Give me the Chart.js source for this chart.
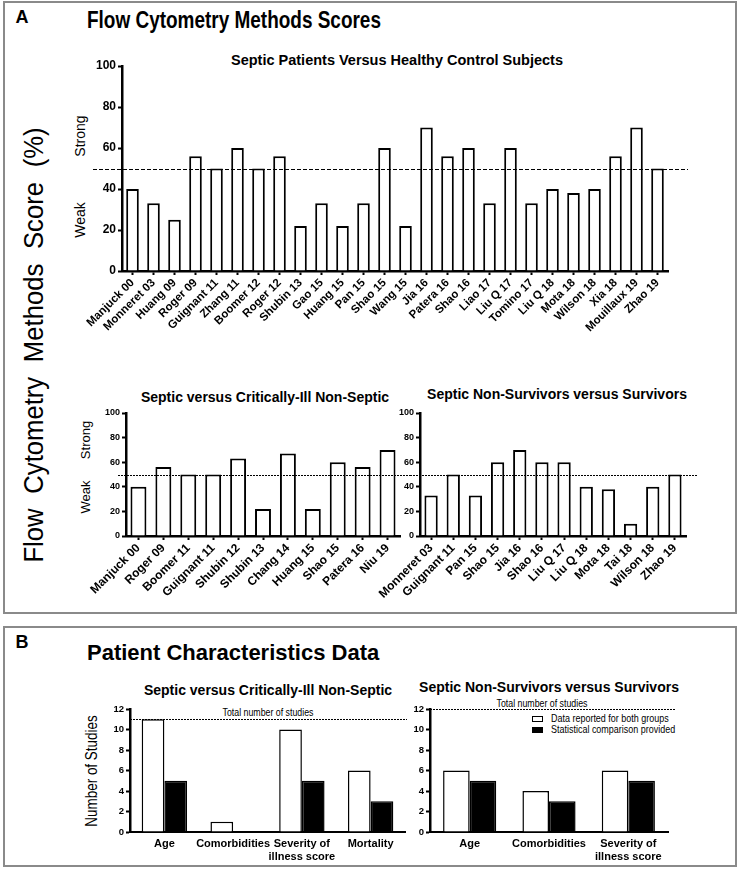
<!DOCTYPE html>
<html>
<head>
<meta charset="utf-8">
<script src="https://cdn.jsdelivr.net/npm/chart.js@4.4.0/dist/chart.umd.min.js"></script>
<style>
  body { margin: 0; background: #fff; }
  #page { position: relative; width: 740px; height: 870px; overflow: hidden; font-family: "Liberation Sans", Arial, sans-serif; color: #000; }
  .box { position: absolute; border: 2px solid #8a8a8a; box-sizing: border-box; }
  .txt { position: absolute; white-space: nowrap; line-height: 1; transform: translate(-50%, -50%); }
  .lft { position: absolute; white-space: nowrap; line-height: 1; transform: translate(0, -50%); transform-origin: left center; }
  .rot { position: absolute; white-space: nowrap; line-height: 1; transform: translate(-50%, -50%) rotate(-90deg); }
  .b { font-weight: bold; }
  canvas { position: absolute; }
  .key { position: absolute; width: 11px; height: 6px; border: 1.5px solid #000; box-sizing: border-box; }
</style>
</head>
<body>
<div id="page">
  <div class="box" style="left:3px;top:1px;width:734px;height:613px"></div>
  <div class="box" style="left:3px;top:626px;width:734px;height:241px"></div>

  <div class="txt b" style="left:22px;top:17px;font-size:18px">A</div>
  <div class="lft b" style="left:87px;top:20px;font-size:24px;transform:translate(0,-50%) scaleX(0.79)">Flow Cytometry Methods Scores</div>
  <div class="txt b" style="left:397px;top:60px;font-size:14.5px">Septic Patients Versus Healthy Control Subjects</div>
  <div class="txt b" style="left:265px;top:397px;font-size:14px">Septic versus Critically-Ill Non-Septic</div>
  <div class="txt b" style="left:557px;top:394px;font-size:14px">Septic Non-Survivors versus Survivors</div>

  <div class="rot" style="left:34px;top:345px;font-size:27px;word-spacing:8px;transform:translate(-50%,-50%) rotate(-90deg) scaleX(0.95)">Flow Cytometry Methods Score (%)</div>
  <div class="rot" style="left:80px;top:136px;font-size:14px">Strong</div>
  <div class="rot" style="left:80px;top:220px;font-size:14px">Weak</div>
  <div class="rot" style="left:85px;top:440px;font-size:13px">Strong</div>
  <div class="rot" style="left:85px;top:497px;font-size:13px">Weak</div>

  <div class="txt b" style="left:22px;top:642px;font-size:18px">B</div>
  <div class="lft b" style="left:87px;top:653px;font-size:22px">Patient Characteristics Data</div>
  <div class="txt b" style="left:268px;top:690px;font-size:14px">Septic versus Critically-Ill Non-Septic</div>
  <div class="txt b" style="left:549px;top:687px;font-size:14px">Septic Non-Survivors versus Survivors</div>
  <div class="rot" style="left:92px;top:771px;font-size:16px;transform:translate(-50%,-50%) rotate(-90deg) scaleX(0.84)">Number of Studies</div>
  <div class="txt" style="left:268px;top:712px;font-size:11px;transform:translate(-50%,-50%) scaleX(0.8)">Total number of studies</div>
  <div class="txt" style="left:542px;top:703px;font-size:11px;transform:translate(-50%,-50%) scaleX(0.8)">Total number of studies</div>

  <div class="key" style="left:532px;top:716px;background:#fff"></div>
  <div class="lft" style="left:551px;top:719px;font-size:11.5px;transform:translate(0,-50%) scaleX(0.78)">Data reported for both groups</div>
  <div class="key" style="left:532px;top:727px;background:#000"></div>
  <div class="lft" style="left:551px;top:730px;font-size:11.5px;transform:translate(0,-50%) scaleX(0.78)">Statistical comparison provided</div>

  <canvas id="healthy" width="650" height="310" style="left:60px;top:40px"></canvas>
  <canvas id="ill" width="375" height="230" style="left:40px;top:380px"></canvas>
  <canvas id="surv" width="390" height="230" style="left:330px;top:380px"></canvas>
  <canvas id="illData" width="380" height="195" style="left:40px;top:670px"></canvas>
  <canvas id="survData" width="375" height="195" style="left:330px;top:670px"></canvas>
</div>

<script>
// ---- data ----
const flowTicks = [0, 20, 40, 60, 80, 100];
const studyTicks = [0, 2, 4, 6, 8, 10, 12];
const cutoff = 50;

const healthyStudies = ["Manjuck 00", "Monneret 03", "Huang 09", "Roger 09", "Guignant 11", "Zhang 11",
  "Boomer 12", "Roger 12", "Shubin 13", "Gao 15", "Huang 15", "Pan 15", "Shao 15", "Wang 15", "Jia 16",
  "Patera 16", "Shao 16", "Liao 17", "Liu Q 17", "Tomino 17", "Liu Q 18", "Mota 18", "Wilson 18",
  "Xia 18", "Mouillaux 19", "Zhao 19"];
const healthyScores = [40, 33, 25, 56, 50, 60, 50, 56, 22, 33, 22, 33, 60, 22, 70, 56, 60, 33, 60, 33, 40, 38, 40, 56, 70, 50];

const illStudies = ["Manjuck 00", "Roger 09", "Boomer 11", "Guignant 11", "Shubin 12", "Shubin 13",
  "Chang 14", "Huang 15", "Shao 15", "Patera 16", "Niu 19"];
const illScores = [40, 56, 50, 50, 63, 22, 67, 22, 60, 56, 70];

const survStudies = ["Monneret 03", "Guignant 11", "Pan 15", "Shao 15", "Jia 16", "Shao 16",
  "Liu Q 17", "Liu Q 18", "Mota 18", "Tai 18", "Wilson 18", "Zhao 19"];
const survScores = [33, 50, 33, 60, 70, 60, 60, 40, 38, 10, 40, 50];

const illItems = ["Age", "Comorbidities", ["Severity of", "illness score"], "Mortality"];
const illReported = [11, 1, 10, 6];
const illCompared = [5, 0, 5, 3];
const illTotal = 11;

const survItems = ["Age", "Comorbidities", ["Severity of", "illness score"]];
const survReported = [6, 4, 6];
const survCompared = [5, 3, 5];
const survTotal = 12;

Chart.defaults.font.family = "'Liberation Sans', Arial, sans-serif";
Chart.defaults.color = "#000";

// dashed reference line, drawn past the axes
function dashLine(value, x0, x1, dash) {
  return {
    id: "dashLine",
    afterDraw: function (chart) {
      const ctx = chart.ctx;
      const y = Math.round(chart.scales.y.getPixelForValue(value)) + 0.5;
      ctx.save();
      ctx.strokeStyle = "#000";
      ctx.lineWidth = 1;
      ctx.setLineDash(dash);
      ctx.beginPath();
      ctx.moveTo(x0, y);
      ctx.lineTo(x1, y);
      ctx.stroke();
      ctx.restore();
    }
  };
}

function axisGrid(len) {
  return { drawOnChartArea: false, drawTicks: len > 0, tickLength: len, tickWidth: 2, tickColor: "#000", offset: false };
}

// ---- A: flow cytometry scores ----
function scoreChart(id, labels, values, o) {
  return new Chart(id, {
    type: "bar",
    data: {
      labels: labels,
      datasets: [{
        data: values,
        backgroundColor: "#fff",
        borderColor: "#000",
        borderWidth: 2,
        barPercentage: o.bar,
        categoryPercentage: 1
      }]
    },
    options: {
      responsive: false,
      animation: false,
      layout: { padding: { top: o.top, right: o.right, left: 0, bottom: 0 } },
      plugins: { legend: { display: false }, tooltip: { enabled: false } },
      scales: {
        x: {
          grid: axisGrid(4),
          border: { color: "#000", width: 2.5 },
          ticks: { font: { weight: "bold", size: o.xFont }, minRotation: 45, maxRotation: 45, autoSkip: false, padding: 1 },
          afterFit: function (s) { s.height = o.xHeight; }
        },
        y: {
          min: 0,
          max: 100,
          afterBuildTicks: function (s) { s.ticks = flowTicks.map(function (v) { return { value: v }; }); },
          grid: axisGrid(4),
          border: { color: "#000", width: 2.5 },
          ticks: { font: { weight: "bold", size: o.yFont }, padding: 2 },
          afterFit: function (s) { s.width = o.yWidth; }
        }
      }
    },
    plugins: [dashLine(cutoff, o.dashFrom, o.dashTo, o.dash)]
  });
}

scoreChart("healthy", healthyStudies, healthyScores, {
  bar: 0.6, top: 26, right: 42, yWidth: 62, xHeight: 79, xFont: 11.5, yFont: 12,
  dashFrom: 33, dashTo: 628, dash: [4, 2]
});
scoreChart("ill", illStudies, illScores, {
  bar: 0.64, top: 33, right: 15, yWidth: 86, xHeight: 74, xFont: 12, yFont: 9,
  dashFrom: 78, dashTo: 370, dash: [2, 1]
});
scoreChart("surv", survStudies, survScores, {
  bar: 0.6, top: 33, right: 34, yWidth: 90, xHeight: 74, xFont: 12, yFont: 9,
  dashFrom: 80, dashTo: 368, dash: [2, 1]
});

// ---- B: patient characteristics ----
function studyChart(id, items, reported, compared, total, o) {
  return new Chart(id, {
    type: "bar",
    data: {
      labels: items,
      datasets: [
        { label: "Data reported for both groups", data: reported, backgroundColor: "#fff", borderColor: "#000", borderWidth: 1.5, categoryPercentage: o.group, barPercentage: 1 },
        { label: "Statistical comparison provided", data: compared, backgroundColor: "#000", borderColor: "#000", borderWidth: 1.5, categoryPercentage: o.group, barPercentage: 1 }
      ]
    },
    options: {
      responsive: false,
      animation: false,
      layout: { padding: { top: o.top, right: o.right, left: 0, bottom: 0 } },
      plugins: { legend: { display: false }, tooltip: { enabled: false } },
      scales: {
        x: {
          grid: axisGrid(0),
          border: { color: "#000", width: 2 },
          ticks: { font: { weight: "bold", size: 11 }, maxRotation: 0, autoSkip: false, padding: 5 },
          afterFit: function (s) { s.height = o.xHeight; }
        },
        y: {
          min: 0,
          max: 12,
          afterBuildTicks: function (s) { s.ticks = studyTicks.map(function (v) { return { value: v }; }); },
          grid: axisGrid(4),
          border: { color: "#000", width: 2.5 },
          ticks: { font: { weight: "bold", size: 9.5 }, padding: 2 },
          afterFit: function (s) { s.width = o.yWidth; }
        }
      }
    },
    plugins: [dashLine(total, o.dashFrom, o.dashTo, [2, 1])]
  });
}

studyChart("illData", illItems, illReported, illCompared, illTotal, {
  group: 0.66, top: 39, right: 15, yWidth: 90, xHeight: 33, dashFrom: 90, dashTo: 367
});
studyChart("survData", survItems, survReported, survCompared, survTotal, {
  group: 0.67, top: 39, right: 37, yWidth: 100, xHeight: 33, dashFrom: 100, dashTo: 345
});
</script>
</body>
</html>
